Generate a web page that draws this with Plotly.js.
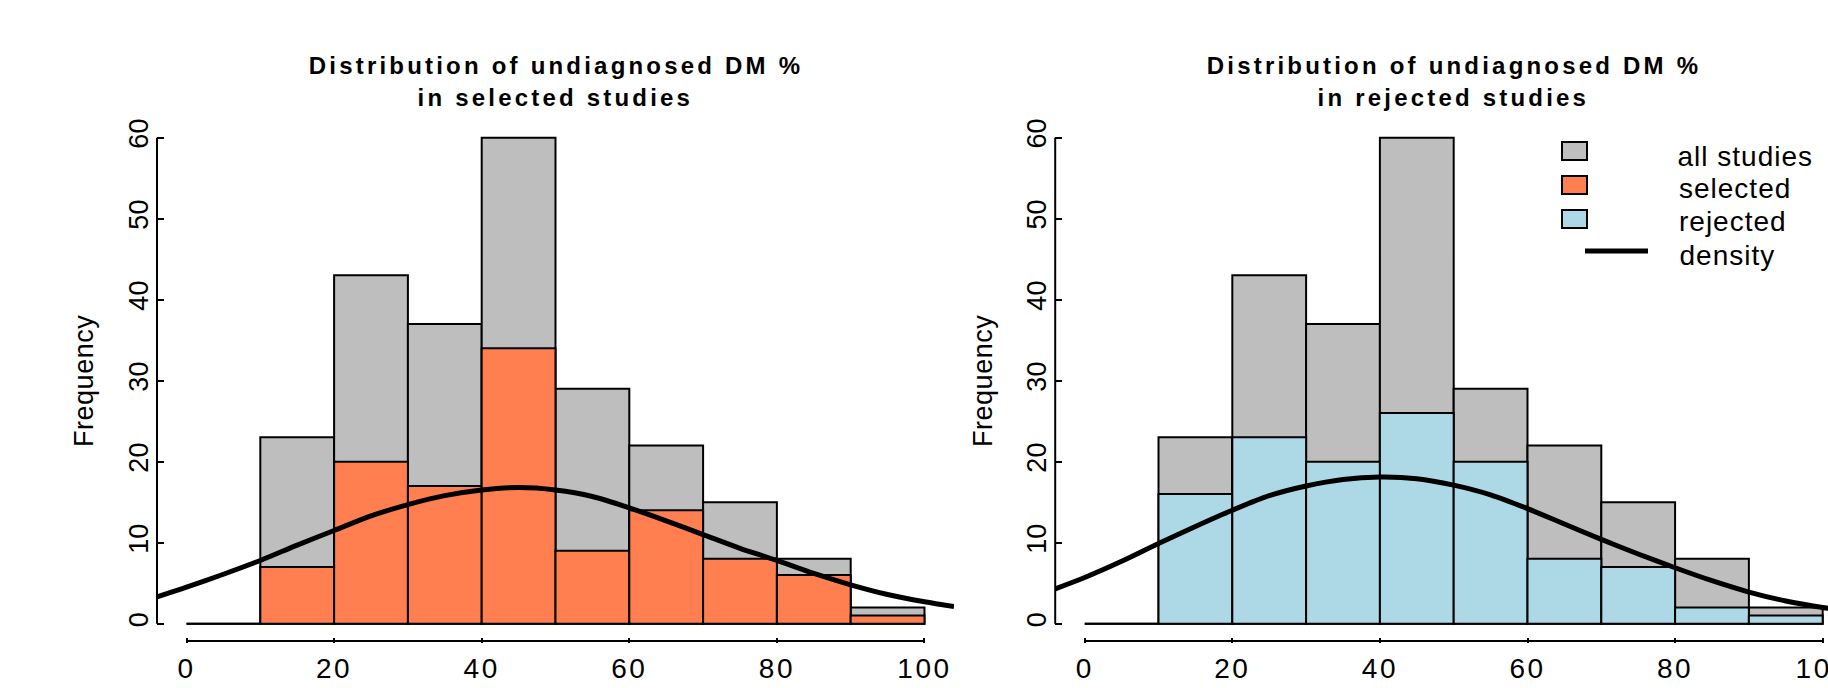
<!DOCTYPE html>
<html><head><meta charset="utf-8">
<script src="https://cdn.plot.ly/plotly-3.0.1.min.js"></script>
<style>
html,body{margin:0;padding:0;background:#fff;overflow:hidden;}
#chart{width:1828px;height:688px;}
</style></head><body><div id="chart"></div>
<script>
// ---------- data ----------
const binEdges = [0,10,20,30,40,50,60,70,80,90,100];
const allCounts = [0,23,43,37,60,29,22,15,8,2];
const selectedCounts = [0,7,20,17,34,9,14,8,6,1];
const rejectedCounts = [0,16,23,20,26,20,8,7,2,1];
const densSelX = [-4,0,5,10,15,20,25,30,35,40,45,50,55,60,65,70,75,80,85,90,95,100,104];
const densSelY = [3.3,4.5,6.1,7.8,9.7,11.5,13.3,14.7,15.8,16.5,16.8,16.5,15.7,14.3,12.7,11.0,9.3,7.8,6.2,4.8,3.6,2.7,2.1];
const densRejX = [-4,0,5,10,15,20,25,30,35,40,45,50,55,60,65,70,75,80,85,90,95,100,104];
const densRejY = [4.3,5.7,7.7,9.9,12.0,14.0,15.8,17.0,17.8,18.1,17.9,17.1,15.9,14.2,12.3,10.4,8.6,6.9,5.3,3.9,2.8,2.0,1.5];
const xTicks = [0,20,40,60,80,100];
const yTicks = [0,10,20,30,40,50,60];
const titleLine1 = "Distribution of undiagnosed DM %";
const titleSel = "in selected studies";
const titleRej = "in rejected studies";
const yLabel = "Frequency";
const legendLabels = ["all studies","selected","rejected","density"];
const colAll = "#BEBEBE", colSel = "#FF7F50", colRej = "#ADD8E6";

// ---------- layout constants ----------
const W = 1828, H = 688;
const FONT = '"Liberation Sans", Arial, Helvetica, sans-serif';
const px = v => v / W, py = v => 1 - v / H;
const xLo = -4, xHi = 104, yLo = -2.4, yHi = 62.4;
const Lx0 = 157, Lx1 = 954, Rx0 = 1055.2, yTopPx = 118.2, yBotPx = 643.1;
const unit = (Lx1 - Lx0) / (xHi - xLo);
const xHi2 = xLo + (W - Rx0) / unit;

const centers = binEdges.slice(0,-1).map((e,i)=>(e+binEdges[i+1])/2);
const widths = binEdges.slice(0,-1).map((e,i)=>binEdges[i+1]-e);

function bars(counts, color, xa, ya){
  return {type:'bar', x:centers, y:counts, width:widths, xaxis:xa, yaxis:ya,
    marker:{color:color, line:{color:'#000', width:2}}, showlegend:false};
}
function dens(xs, ys, xa, ya){
  return {type:'scatter', mode:'lines', x:xs, y:ys, xaxis:xa, yaxis:ya,
    line:{color:'#000', width:5, shape:'spline', smoothing:0.8}, showlegend:false, cliponaxis:true};
}
const traces = [
  bars(allCounts, colAll, 'x', 'y'),
  bars(selectedCounts, colSel, 'x', 'y'),
  dens(densSelX, densSelY, 'x', 'y'),
  bars(allCounts, colAll, 'x2', 'y2'),
  bars(rejectedCounts, colRej, 'x2', 'y2'),
  dens(densRejX, densRejY, 'x2', 'y2')
];

const xCommon = {tickvals:xTicks, ticktext:xTicks.map(String), ticks:'inside', ticklen:5, tickwidth:2,
  tickcolor:'#000', showline:false, showgrid:false, zeroline:false, ticklabeloverflow:'allow',
  tickfont:{family:FONT, size:28, color:'#000'}, ticklabelstandoff:6, fixedrange:true};
const yCommon = {tickvals:yTicks, ticktext:yTicks.map(String), ticks:'inside', ticklen:7, tickwidth:2,
  tickcolor:'#000', showline:false, showgrid:false, zeroline:false, tickangle:-90,
  tickfont:{family:FONT, size:27, color:'#000'}, ticklabelstandoff:3, range:[yLo,yHi],
  domain:[py(yBotPx), py(yTopPx)], fixedrange:true};

const shapes = [];
['x','x2'].forEach((xa,k)=>{
  const ya = k===0 ? 'y' : 'y2';
  shapes.push({type:'line', xref:xa, yref:ya+' domain', x0:xTicks[0], x1:xTicks[xTicks.length-1], y0:0.004, y1:0.004, line:{color:'#000', width:2}});
  shapes.push({type:'line', xref:xa+' domain', yref:ya, x0:0, x1:0, y0:yTicks[0], y1:yTicks[yTicks.length-1], line:{color:'#000', width:2}});
});
// legend symbols
const legBoxCols = [colAll, colSel, colRej];
const legBoxY = [[142,160],[176,194],[210,228]];
legBoxCols.forEach((c,i)=>{
  shapes.push({type:'rect', xref:'paper', yref:'paper', x0:px(1562), x1:px(1587), y0:py(legBoxY[i][1]), y1:py(legBoxY[i][0]),
    fillcolor:c, line:{color:'#000', width:2}});
});
shapes.push({type:'line', xref:'paper', yref:'paper', x0:px(1585), x1:px(1648), y0:py(251), y1:py(251), line:{color:'#000', width:5}});

const annotations = [];
const ls = []; // letter spacing per annotation
function ann(o, spacing){ annotations.push(Object.assign({showarrow:false}, o)); ls.push(spacing||0); }
const titleFont = {family:FONT, size:24, color:'#000', weight:700};
const midX = (xTicks[0]+xTicks[xTicks.length-1])/2;
const midY = (yTicks[0]+yTicks[yTicks.length-1])/2;
ann({xref:'x', yref:'paper', x:midX, y:py(65), text:titleLine1, font:titleFont, xanchor:'center', yanchor:'middle'}, 3.2);
ann({xref:'x', yref:'paper', x:midX, y:py(97), text:titleSel, font:titleFont, xanchor:'center', yanchor:'middle'}, 3.2);
ann({xref:'x2', yref:'paper', x:midX, y:py(65), text:titleLine1, font:titleFont, xanchor:'center', yanchor:'middle'}, 3.2);
ann({xref:'x2', yref:'paper', x:midX, y:py(97), text:titleRej, font:titleFont, xanchor:'center', yanchor:'middle'}, 3.2);
ann({xref:'paper', yref:'y', x:px(84), y:midY, text:yLabel, textangle:-90, font:{family:FONT, size:27, color:'#000'}, xanchor:'center', yanchor:'middle'}, 0.5);
ann({xref:'paper', yref:'y2', x:px(983), y:midY, text:yLabel, textangle:-90, font:{family:FONT, size:27, color:'#000'}, xanchor:'center', yanchor:'middle'}, 0.5);
const legTextY = [157,188,221,255];
legendLabels.forEach((t,i)=>{
  ann({xref:'paper', yref:'paper', x:px(1681), y:py(legTextY[i]), text:t, font:{family:FONT, size:28, color:'#000'}, xanchor:'left', yanchor:'middle'}, 1);
});

const layout = {
  width:W, height:H, margin:{l:0,r:0,t:0,b:0}, paper_bgcolor:'#fff', plot_bgcolor:'rgba(0,0,0,0)',
  barmode:'overlay', bargap:0, showlegend:false,
  xaxis:Object.assign({}, xCommon, {range:[xLo,xHi], domain:[px(Lx0), px(Lx1)], anchor:'y'}),
  yaxis:Object.assign({}, yCommon, {anchor:'x'}),
  xaxis2:Object.assign({}, xCommon, {range:[xLo,xHi2], domain:[px(Rx0), 1], anchor:'y2'}),
  yaxis2:Object.assign({}, yCommon, {anchor:'x2'}),
  shapes:shapes, annotations:annotations
};

Plotly.newPlot('chart', traces, layout, {staticPlot:true, displayModeBar:false}).then(()=>{
  document.querySelectorAll('.xtick text, .x2tick text').forEach(t=>t.style.letterSpacing='2.5px');
  document.querySelectorAll('g.annotation').forEach(g=>{
    const i = +g.getAttribute('data-index');
    const t = g.querySelector('text');
    if(t && ls[i]) t.style.letterSpacing = ls[i] + 'px';
  });
});
</script></body></html>
